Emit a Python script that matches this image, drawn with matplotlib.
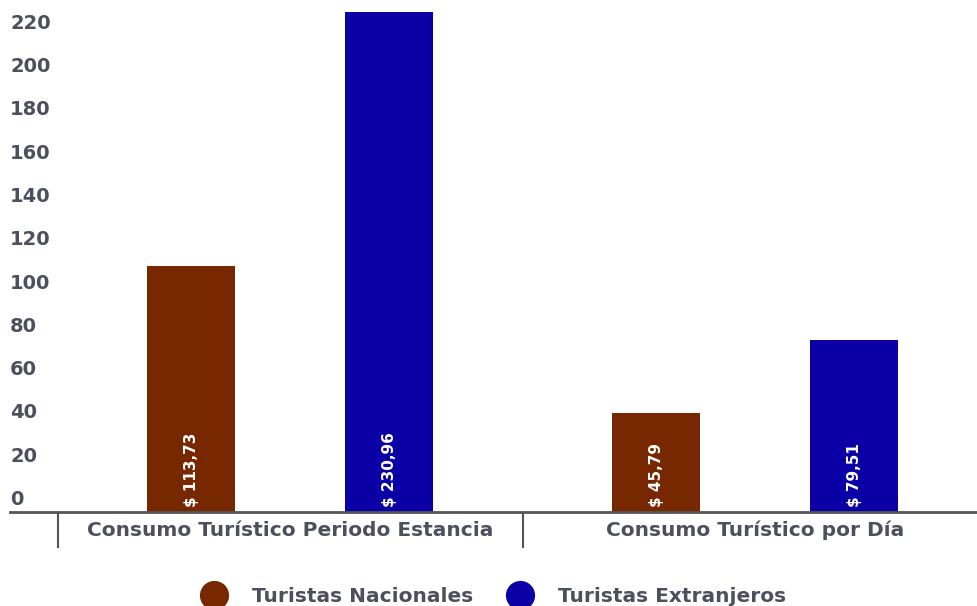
import matplotlib
matplotlib.use("Agg")
import matplotlib.pyplot as plt
import matplotlib.transforms as mtransforms
from matplotlib.lines import Line2D

categories = ["Consumo Turístico Periodo Estancia", "Consumo Turístico por Día"]
series_names = ["Turistas Nacionales", "Turistas Extranjeros"]
nacionales = [113.73, 45.79]
extranjeros = [230.96, 79.51]
value_labels = [["$ 113,73", "$ 45,79"], ["$ 230,96", "$ 79,51"]]
yticks = [0, 20, 40, 60, 80, 100, 120, 140, 160, 180, 200, 220]

colors = ["#772800", "#0b00a6"]
text_color = "#4b505c"
axis_color = "#555555"

plt.rcParams["font.family"] = ["DejaVu Sans"]

fig = plt.figure(figsize=(9.77, 6.06), dpi=100)
# axes spans from x=10px to the right edge, baseline at y=512px
ax = fig.add_axes([10 / 977, (606 - 512) / 606, 1 - 10 / 977, 512 / 606])

x = [0, 1]
offset = 0.213
width = 0.189
for i, vals in enumerate([nacionales, extranjeros]):
    pos = [xi + (offset if i else -offset) for xi in x]
    ax.bar(pos, vals, width=width, color=colors[i], zorder=2)
    for p, v, lab in zip(pos, vals, value_labels[i]):
        t = mtransforms.offset_copy(ax.transData, fig=fig, x=0, y=5, units="dots")
        ax.text(p, 0, lab, rotation=90, ha="center", va="bottom",
                color="white", fontsize=11, fontweight="bold", transform=t)

ax.set_xlim(-0.603, 1.477)
ax.set_ylim(0, 236.6)

for s in ax.spines.values():
    s.set_visible(False)
ax.axhline(0, color=axis_color, lw=2, zorder=3, clip_on=False)
ax.set_xticks([])
ax.set_yticks([])

# y labels sit above their value line, left aligned
ylab_t = mtransforms.offset_copy(ax.get_yaxis_transform(), fig=fig, x=0, y=3, units="dots")
for v in yticks:
    ax.text(0, v, str(v), ha="left", va="bottom", color=text_color,
            fontsize=14, fontweight="bold", transform=ylab_t)

# category separators and labels below the axis
sep_t = mtransforms.blended_transform_factory(ax.transData, fig.transFigure)
for xs in [-0.5, 0.5]:
    ax.add_line(Line2D([xs, xs], [(606 - 513) / 606, (606 - 547) / 606],
                       transform=sep_t, color=axis_color, lw=1.5, clip_on=False))
for xi, c in zip(x, categories):
    ax.text(xi, (606 - 530) / 606, c, ha="center", va="center", color=text_color,
            fontsize=14.5, fontweight="bold", transform=sep_t)

handles = [Line2D([], [], marker="o", linestyle="none", markersize=20,
                  markerfacecolor=col, markeredgecolor=col) for col in colors]
fig.legend(handles, series_names, loc="center", bbox_to_anchor=(490 / 977, 1 - 597 / 606),
           ncol=2, frameon=False, handletextpad=0.9, columnspacing=1.3,
           labelcolor=text_color, prop={"weight": "bold", "size": 14.5})

fig.savefig("out.png", dpi=100)
